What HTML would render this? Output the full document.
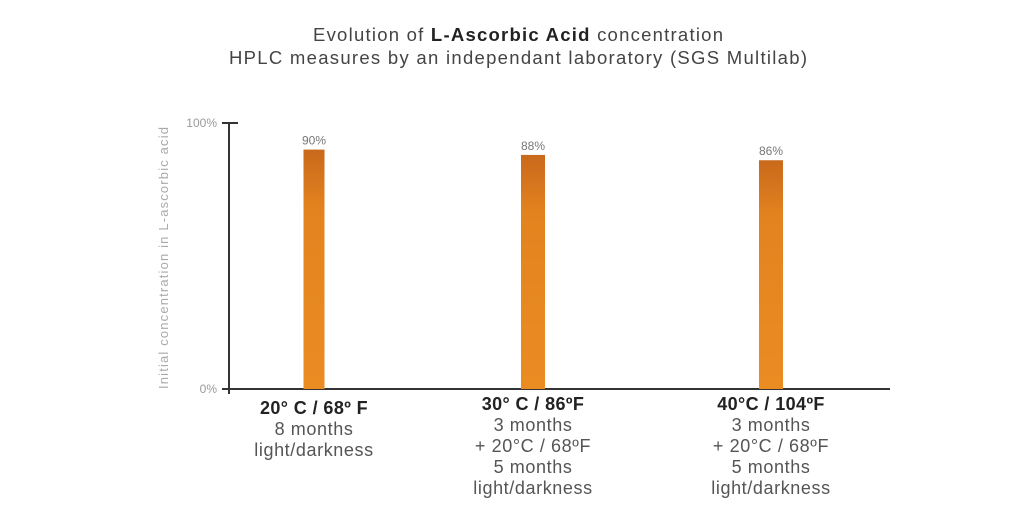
<!DOCTYPE html>
<html><head><meta charset="utf-8"><style>
body{margin:0;background:#fff;width:1018px;height:510px;overflow:hidden;font-family:"Liberation Sans",sans-serif}
</style></head><body>
<svg id="c" width="1018" height="510" xmlns="http://www.w3.org/2000/svg">
<defs><linearGradient id="g" x1="0" y1="0" x2="0" y2="1"><stop offset="0" stop-color="#c9691c"/><stop offset="0.25" stop-color="#e3831f"/><stop offset="1" stop-color="#ea8c22"/></linearGradient></defs>
<text x="518" y="41" text-anchor="middle" font-size="18.5" fill="#444" textLength="410" lengthAdjust="spacing">Evolution of <tspan font-weight="bold" fill="#222">L-Ascorbic Acid</tspan> concentration</text>
<text x="518" y="64" text-anchor="middle" font-size="18.5" fill="#444" textLength="578" lengthAdjust="spacing">HPLC measures by an independant laboratory (SGS Multilab)</text>
<text transform="translate(168,258) rotate(-90)" text-anchor="middle" font-size="13" fill="#aaa" textLength="262" lengthAdjust="spacing">Initial concentration in L-ascorbic acid</text>
<line x1="229" y1="123" x2="229" y2="394" stroke="#333" stroke-width="2"/>
<line x1="222" y1="389" x2="890" y2="389" stroke="#333" stroke-width="2"/>
<line x1="222" y1="123" x2="238" y2="123" stroke="#333" stroke-width="2"/>
<text x="217" y="127" text-anchor="end" font-size="12" fill="#999">100%</text>
<text x="217" y="393" text-anchor="end" font-size="12" fill="#999">0%</text>
<g id="bars"></g>
</svg>
<script>
const categories=["20° C / 68º F","30° C / 86ºF","40°C / 104ºF"];
const values=[90,88,86];
const valueLabels=["90%","88%","86%"];
const subLabels=[["8 months","light/darkness"],["3 months","+ 20°C / 68ºF","5 months","light/darkness"],["3 months","+ 20°C / 68ºF","5 months","light/darkness"]];
const NS="http://www.w3.org/2000/svg";
const y0=389,y100=123;
function yScale(v){return y0-(y0-y100)*v/100;}
const centers=[314,533,771];
function xScale(i){return centers[i];}
const g=document.getElementById('bars');
categories.forEach((c,i)=>{
  const cx=xScale(i),w=i===0?21:24,top=yScale(values[i]);
  const r=document.createElementNS(NS,'rect');
  
  
  r.setAttribute('x',cx-w/2);r.setAttribute('y',top);r.setAttribute('width',w);r.setAttribute('height',y0-top);r.setAttribute('fill','url(#g)');
  g.appendChild(r);
  const t=document.createElementNS(NS,'text');
  
  
  t.setAttribute('x',cx);t.setAttribute('y',top-5);t.setAttribute('text-anchor','middle');t.setAttribute('font-size','12');t.setAttribute('fill','#777');
  t.textContent=valueLabels[i];g.appendChild(t);
  const startY=i===0?414:410;
  const h=document.createElementNS(NS,'text');
  
  
  h.setAttribute('x',cx);h.setAttribute('y',startY);h.setAttribute('text-anchor','middle');h.setAttribute('font-size','18');h.setAttribute('font-weight','bold');h.setAttribute('fill','#222');h.setAttribute('letter-spacing','0.4');
  h.textContent=c;g.appendChild(h);
  subLabels[i].forEach((s,j)=>{
    const st=document.createElementNS(NS,'text');
    
    
    st.setAttribute('x',cx);st.setAttribute('y',startY+21*(j+1));st.setAttribute('text-anchor','middle');st.setAttribute('font-size','18');st.setAttribute('fill','#555');st.setAttribute('letter-spacing','0.6');
    st.textContent=s;g.appendChild(st);
  });
});
</script>
</body></html>
